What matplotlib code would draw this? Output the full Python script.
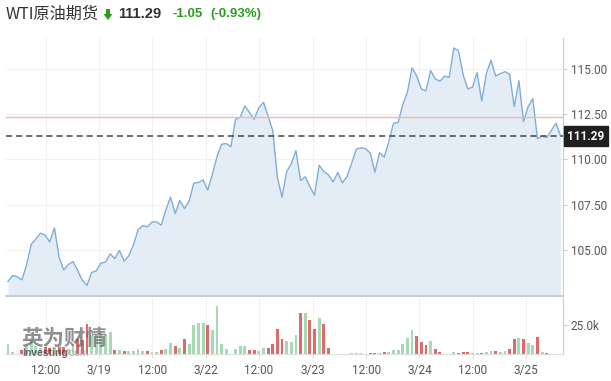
import matplotlib
matplotlib.use("Agg")
import matplotlib.pyplot as plt
import matplotlib.transforms as mtransforms
from matplotlib.patches import Polygon
import numpy as np

# WTI 原油期货 hourly-ish closes
price = [
    103.26, 103.59, 103.52, 103.35, 104.18, 105.32, 105.60, 105.93, 105.82, 105.45,
    106.22, 104.60, 103.90, 104.20, 104.36, 103.87, 103.32, 103.04, 103.76, 103.85,
    104.27, 104.33, 104.79, 104.53, 104.98, 104.39, 104.68, 105.27, 106.11, 106.35,
    106.28, 106.54, 106.56, 106.37, 107.22, 107.92, 107.01, 107.73, 107.29, 107.70,
    108.69, 108.73, 108.87, 108.32, 109.17, 110.16, 110.84, 110.88, 110.71, 112.22,
    112.33, 112.96, 112.59, 112.22, 112.85, 113.16, 112.41, 111.60, 109.02, 107.92,
    109.33, 109.76, 110.49, 108.84, 109.04, 108.50, 108.03, 109.68, 109.33, 109.15,
    108.76, 109.28, 108.71, 109.06, 109.79, 110.57, 110.64, 110.60, 110.35, 109.30,
    110.38, 110.13, 110.99, 112.00, 112.04, 113.03, 113.71, 115.06, 114.61, 113.90,
    113.79, 114.91, 114.45, 114.32, 114.60, 114.54, 116.16, 116.01, 114.67, 113.90,
    113.99, 114.80, 113.23, 114.76, 115.48, 114.61, 114.74, 114.85, 114.71, 112.92,
    114.35, 112.09, 112.92, 113.36, 111.14, 111.30, 111.21, 111.60, 112.00, 111.29,
]
# volume in thousands
volume = [
    8.5, 1.7, 0.0, 3.0, 8.0, 12.0, 7.0, 5.0, 6.0, 5.0,
    6.0, 6.3, 6.3, 4.0, 8.5, 12.5, 12.0, 25.6, 16.0, 16.0,
    17.6, 16.2, 18.5, 3.4, 3.4, 2.8, 2.3, 2.8, 4.0, 2.3,
    2.3, 1.4, 1.4, 3.1, 4.0, 9.1, 7.1, 4.8, 12.5, 8.2,
    24.5, 26.2, 26.2, 24.5, 20.2, 40.7, 8.2, 4.0, 0.0, 4.0,
    6.5, 6.5, 3.1, 3.1, 2.3, 4.8, 4.8, 8.2, 21.0, 12.5,
    10.8, 10.0, 15.9, 34.7, 34.7, 28.7, 21.0, 30.4, 25.6, 4.8,
    0.0, 0.0, 0.0, 0.0, 0.85, 0.85, 0.85, 0.0, 0.85, 0.85,
    0.85, 1.7, 1.4, 3.1, 3.1, 8.5, 13.4, 20.2, 15.1, 10.0,
    7.4, 11.1, 4.0, 1.7, 0.0, 0.0, 1.7, 0.85, 1.7, 1.7,
    0.85, 0.85, 0.85, 1.7, 2.3, 2.3, 1.7, 2.3, 4.0, 12.5,
    13.4, 12.5, 9.1, 7.4, 14.2, 1.4, 0.85, 0.0, 0.0, 0.0,
]
tick_pos = [8.1, 19.6, 31.1, 42.6, 54.0, 65.6, 77.1, 88.6, 100.1, 111.6]
tick_labels = ["12:00", "3/19", "12:00", "3/22", "12:00",
               "3/23", "12:00", "3/24", "12:00", "3/25"]
price_ticks = [105.0, 107.5, 110.0, 112.5, 115.0]
prev_close = 112.34
last = 111.29
change = -1.05
change_pct = -0.93

TICK_FONT = "Roboto"
GRID = "#f1f1f1"
x = np.arange(len(price))

fig = plt.figure(figsize=(6.11, 3.81), dpi=100)
W, H = 611, 381
ax = fig.add_axes([6 / W, (H - 296) / H, 557 / W, 258 / H])
axv = fig.add_axes([6 / W, (H - 354) / H, 557 / W, 56 / H], sharex=ax)

# ---- price panel
ax.set_xlim(-0.43, 119.5)
ax.set_ylim(102.46, 116.71)
ax.fill_between(x, price, 102.46, color="#e4edf5", lw=0)
ax.plot(x, price, color="#7eaed8", lw=1.0)
ax.axhline(prev_close, color="#f2b4ae", lw=1.0)
ax.axhline(last, color="#444444", lw=1.1, ls=(0, (4, 2.6)))

ax.set_yticks(price_ticks)
ax.set_yticklabels([f"{v:.2f}" for v in price_ticks])
ax.yaxis.tick_right()
ax.set_xticks(tick_pos)
ax.tick_params(axis="x", length=0, labelbottom=False)
ax.tick_params(axis="y", length=3, color="#cccccc", labelcolor="#555555",
               labelsize=8.5, pad=2.5)
for lab in ax.get_yticklabels():
    lab.set_family(TICK_FONT)
ax.grid(True, color=GRID, lw=0.8)
ax.set_axisbelow(True)
for s in ("left", "top"):
    ax.spines[s].set_visible(False)
ax.spines["right"].set_color("#cccccc")
ax.spines["bottom"].set_color("#c8c8c8")
ax.spines["bottom"].set_linewidth(1.3)

trans = mtransforms.blended_transform_factory(ax.transAxes, ax.transData)
ax.text(1.0 + 4.5 / 557, last, f"{last:.2f}", transform=trans, va="center",
        ha="left", color="white", fontsize=8.5, fontweight="bold",
        family=TICK_FONT,
        bbox=dict(boxstyle="square,pad=0.3", fc="#1f1f1f", ec="#1f1f1f"))

# ---- volume panel
up = np.r_[True, np.diff(price) >= 0]
colors = np.where(up, "#a6dab7", "#e06a6a")
axv.bar(x, volume, width=0.62, color=colors, lw=0)
axv.set_ylim(0, 47.8)
axv.set_yticks([25])
axv.set_yticklabels(["25.0k"])
axv.yaxis.tick_right()
axv.set_xticks(tick_pos)
axv.set_xticklabels(tick_labels)
axv.tick_params(axis="x", length=3, color="#dddddd", labelcolor="#555555",
                labelsize=8.5, pad=4)
axv.tick_params(axis="y", length=3, color="#cccccc", labelcolor="#555555",
                labelsize=8.5, pad=2.5)
for lab in axv.get_xticklabels() + axv.get_yticklabels():
    lab.set_family(TICK_FONT)
axv.grid(True, axis="x", color=GRID, lw=0.8)
axv.set_axisbelow(True)
for s in ("left", "top"):
    axv.spines[s].set_visible(False)
axv.spines["right"].set_color("#cccccc")
axv.spines["bottom"].set_color("#dddddd")

# watermark
fig.text(21 / W, (H - 338) / H, "英为财情", family=["Noto Sans CJK SC", "DejaVu Sans"],
         fontsize=15.5, fontweight="black", color="#666666", alpha=0.72,
         va="center", ha="left")
fig.text(22 / W, (H - 353) / H, "Investing", family="Liberation Sans",
         fontsize=7.5, fontweight="bold", color="#333333", alpha=0.7,
         va="center", ha="left")
fig.text(66 / W, (H - 353) / H, ".com", family="Liberation Sans",
         fontsize=7.5, color="#888888", alpha=0.7, va="center", ha="left")

# ---- header
yh = (H - 14) / H
green = "#2a9d1f"
fig.text(6 / W, yh, "WTI原油期货", family=["Noto Sans CJK SC", "DejaVu Sans"],
         fontsize=11.6, color="#333333", va="center", ha="left")
# down arrow, drawn in pixel coords (origin bottom-left)
arrow = [(106, H - 9), (110, H - 9), (110, H - 14), (112.5, H - 14),
         (108, H - 20), (103.5, H - 14), (106, H - 14)]
fig.add_artist(Polygon(arrow, closed=True, transform=None, fc=green, ec="none"))
fig.text(118 / W, yh, f"{last:.2f}", family="Liberation Sans", fontsize=10.6,
         fontweight="bold", color="#333333", va="center", ha="left")
fig.text(172 / W, yh, f"{change:+.2f}", family="Liberation Sans", fontsize=9.5,
         fontweight="bold", color=green, va="center", ha="left")
fig.text(210 / W, yh, f"({change_pct:+.2f}%)", family="Liberation Sans",
         fontsize=9.5, fontweight="bold", color=green, va="center", ha="left")

fig.savefig("out.png", dpi=100)
